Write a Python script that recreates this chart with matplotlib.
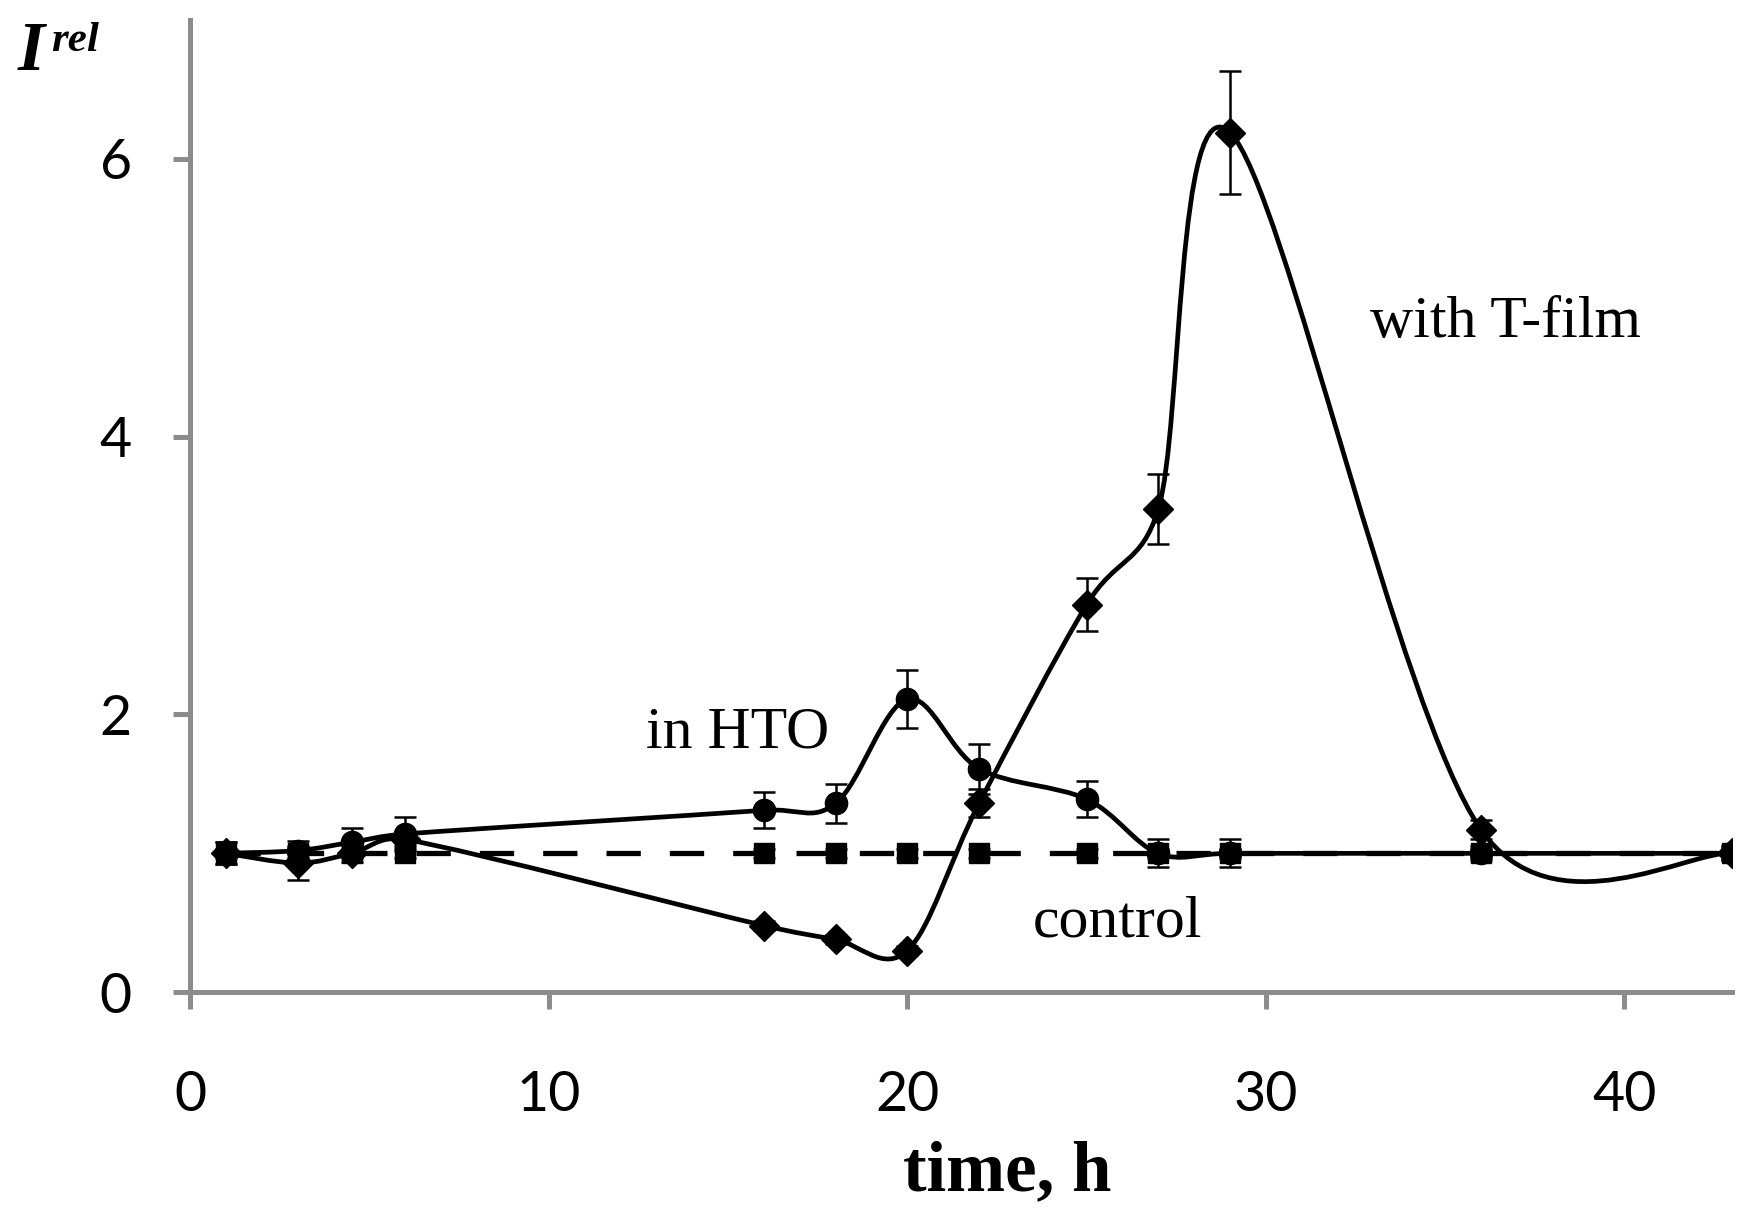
import numpy as np
import matplotlib
matplotlib.use('Agg')
import matplotlib.pyplot as plt
from matplotlib.path import Path
from matplotlib.patches import PathPatch

# time points (h)
time_h = [1, 3, 4.5, 6, 16, 18, 20, 22, 25, 27, 29, 36, 43]

# relative intensity
hto = [1.0, 1.02, 1.08, 1.14, 1.31, 1.36, 2.11, 1.61, 1.39, 1.0, 1.0, 1.0, 1.0]
hto_err = [0.08, 0.07, 0.1, 0.12, 0.13, 0.14, 0.21, 0.18, 0.13, 0.1, 0.1, 0.05, 0.05]

tfilm = [1.0, 0.93, 1.0, 1.1, 0.48, 0.38, 0.3, 1.36, 2.79, 3.48, 6.19, 1.17, 1.0]
tfilm_err = [0.08, 0.12, 0.06, 0.05, 0.03, 0.03, 0.03, 0.1, 0.19, 0.25, 0.44, 0.07, 0.05]

control = [1.0] * len(time_h)
control_err = [0.03] * len(time_h)

xticks = [0, 10, 20, 30, 40]
yticks = [0, 2, 4, 6]

GREY = '#8c8c8c'
SERIF = 'Liberation Serif'
LW = 3.4


def smooth_path(ax, x, y):
    # excel-like smoothed line: cubic bezier through the points, built in
    # screen space (catmull-rom legs, clamped to half the segment length)
    tr = ax.transData
    pts = tr.transform(np.column_stack([x, y]).astype(float))
    n = len(pts)
    verts = [pts[0]]
    codes = [Path.MOVETO]

    def leg(i, toward):
        t = (pts[min(i + 1, n - 1)] - pts[max(i - 1, 0)]) / 6.0
        seg = np.hypot(*(pts[toward] - pts[i]))
        ln = np.hypot(*t)
        if ln > 0.5 * seg and ln > 0:
            t = t * (0.5 * seg / ln)
        return t

    for i in range(n - 1):
        c1 = pts[i] + leg(i, i + 1)
        c2 = pts[i + 1] - leg(i + 1, i)
        verts += [c1, c2, pts[i + 1]]
        codes += [Path.CURVE4] * 3
    verts = tr.inverted().transform(np.array(verts))
    return Path(verts, codes)


fig = plt.figure(figsize=(17.46, 12.13), dpi=100)
ax = fig.add_axes([0.109, 0.182, 0.883, 0.8015])
ax.set_xlim(0, 43)
ax.set_ylim(0, 7)

# control: dashed straight line with squares
ax.plot(time_h, control, color='black', lw=LW + 0.4, ls=(0, (6.5, 5.5)), zorder=2)
ax.errorbar(time_h, control, yerr=control_err, fmt='s', ms=14, color='black',
            ecolor='black', elinewidth=1.8, capsize=8, capthick=1.8, zorder=3)

# smoothed lines
for yvals in (hto, tfilm):
    ax.add_patch(PathPatch(smooth_path(ax, time_h, yvals), facecolor='none',
                           edgecolor='black', lw=LW, transform=ax.transData,
                           zorder=2))

ax.errorbar(time_h, hto, yerr=hto_err, fmt='o', ms=16, color='black',
            ecolor='black', elinewidth=1.8, capsize=8, capthick=1.8, zorder=3)
ax.errorbar(time_h, tfilm, yerr=tfilm_err, fmt='D', ms=15, color='black',
            ecolor='black', elinewidth=1.8, capsize=8, capthick=1.8, zorder=3)

ax.set_xticks(xticks)
ax.set_yticks(yticks)

for side in ('top', 'right'):
    ax.spines[side].set_visible(False)
for side in ('left', 'bottom'):
    ax.spines[side].set_color(GREY)
    ax.spines[side].set_linewidth(3.6)

ax.tick_params(axis='both', direction='out', color=GREY, width=3.6, length=12,
               labelsize=40, labelcolor='black')
ax.tick_params(axis='x', pad=44)
ax.tick_params(axis='y', pad=30)
for lab in ax.get_xticklabels() + ax.get_yticklabels():
    lab.set_family('Lato')

ax.set_xlabel('time, h', fontsize=51, fontweight='bold', family=SERIF)
ax.xaxis.set_label_coords(0.53, -0.152)

# y label at top left
fig.text(0.010, 0.942, 'I', fontsize=50, fontweight='bold', fontstyle='italic',
         family=SERIF, ha='left', va='baseline')
fig.text(0.029, 0.958, 'rel', fontsize=31, fontweight='bold', fontstyle='italic',
         family=SERIF, ha='left', va='baseline')

# series annotations
ax.text(12.7, 1.86, 'in HTO', fontsize=43, family=SERIF, ha='left', va='center')
ax.text(32.9, 4.82, 'with T-film', fontsize=43, family=SERIF, ha='left', va='center')
ax.text(23.5, 0.5, 'control', fontsize=43, family=SERIF, ha='left', va='center')

fig.savefig('out.png', dpi=100, facecolor='white')
